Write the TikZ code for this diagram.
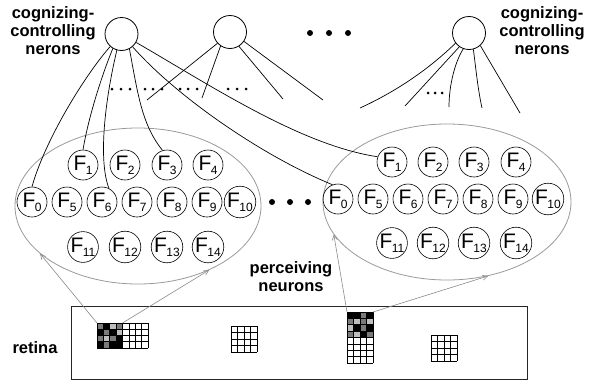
\documentclass[tikz,border=0pt]{standalone}
\usepackage{fontspec}
\setmainfont{Liberation Sans}
\usetikzlibrary{shapes.geometric,arrows.meta}
\newcommand{\Fn}[1]{F\kern-0.5pt\raisebox{-4pt}{\fontsize{12}{12}\selectfont #1}}
\definecolor{cK}{HTML}{000000}
\definecolor{cG}{HTML}{7A7A7A}
\definecolor{cL}{HTML}{BEBEBE}
\definecolor{ellgray}{HTML}{9A9A9A}
\definecolor{arrgray}{HTML}{8A8A8A}
\tikzset{
  topn/.style={circle,draw,line width=0.8pt,minimum size=33pt,inner sep=0pt},
  fnode/.style={circle,draw,line width=0.6pt,minimum size=30pt,inner sep=0pt,font=\fontsize{21}{21}\selectfont},
  ellnode/.style={ellipse,draw=ellgray,line width=0.8pt,inner sep=0pt},
  conn/.style={line width=0.7pt},
  arr/.style={draw=arrgray,line width=0.6pt,-{Straight Barb[length=5pt,width=5pt]}},
  lbl/.style={font=\fontsize{16.5}{18}\selectfont\bfseries,align=center,inner sep=0pt},
  sdot/.style={circle,fill,inner sep=0pt,minimum size=3pt},
  bdot/.style={circle,fill,inner sep=0pt,minimum size=6pt},
  gridline/.style={line width=0.7pt,draw=black},
}
\begin{document}
\begin{tikzpicture}[x=1pt,y=-1pt]
\useasboundingbox (0,0) rectangle (589,383);

% labels
\node[lbl] (lblL) at (53,31) {cognizing-\\controlling\\nerons};
\node[lbl] (lblR) at (542,31) {cognizing-\\controlling\\nerons};
\node[lbl] (lblP) at (291,277) {perceiving\\neurons};
\node[lbl] (lblRet) at (35,348) {retina};

% top neurons
\node[topn] (c1) at (121.5,34) {};
\node[topn] (c2) at (230,32) {};
\node[topn] (c3) at (469,33) {};

% big dots
\node[bdot] (bd1) at (310,33) {};
\node[bdot] (bd2) at (329,33) {};
\node[bdot] (bd3) at (348,33) {};
\node[bdot] (md1) at (272,202) {};
\node[bdot] (md2) at (290,202) {};
\node[bdot] (md3) at (308,202) {};

% small dots
\foreach \x [count=\i] in {112,121,130,145,153,162,180,188,197,228,237,246}
  \node[sdot] (sd\i) at (\x,89) {};
\foreach \x [count=\i] in {428,435,442}
  \node[sdot] (td\i) at (\x,93) {};

% ellipses
\node[ellnode,minimum width=246pt,minimum height=156pt] (lell) at (138,206) {};
\node[ellnode,minimum width=248pt,minimum height=156pt] (rell) at (447,202) {};

% F nodes, left
\foreach \n/\x in {1/83,2/125,3/167,4/208}
  \node[fnode] (lF\n) at (\x,165) {\Fn{\n}};
\foreach \n/\x in {0/32,5/67,6/102,7/137,8/172,9/207,10/240}
  \node[fnode] (lF\n) at (\x,202) {\Fn{\n}};
\foreach \n/\x in {11/83,12/125,13/167,14/208}
  \node[fnode] (lF\n) at (\x,247) {\Fn{\n}};
% F nodes, right
\foreach \n/\x in {1/392,2/433,3/474,4/516}
  \node[fnode] (rF\n) at (\x,162) {\Fn{\n}};
\foreach \n/\x in {0/338,5/373,6/408,7/443,8/478,9/513,10/548}
  \node[fnode] (rF\n) at (\x,199) {\Fn{\n}};
\foreach \n/\x in {11/392,12/433,13/474,14/516}
  \node[fnode] (rF\n) at (\x,243) {\Fn{\n}};

% connectors from c1
\draw[conn] (c1.228) .. controls (85,75) and (45,140) .. (lF0.90);
\draw[conn] (c1.239) .. controls (100,80) and (88,120) .. (lF1.90);
\draw[conn] (c1.254) .. controls (105,100) and (98,160) .. (lF6.63);
\draw[conn] (c1.298) .. controls (138,95) and (142,125) .. (lF3.107);
\draw[conn] (c1.311) .. controls (175,95) and (260,155) .. (rF0.111);
\draw[conn] (c1.330) .. controls (210,85) and (300,145) .. (rF1.160);

% stubs from c2
\coordinate (s1) at (147,100);
\coordinate (s2) at (202,98);
\coordinate (s3) at (283,99);
\coordinate (s4) at (323,100);
\draw[conn] (c2.222) -- (s1);
\draw[conn] (c2.236) -- (s2);
\draw[conn] (c2.302) -- (s3);
\draw[conn] (c2.326) -- (s4);

% stubs from c3
\coordinate (t1) at (360,108);
\coordinate (t2) at (405,106);
\coordinate (t3) at (449,107);
\coordinate (t4) at (482,108);
\coordinate (t5) at (520,113);
\draw[conn] (c3.217) .. controls (428,70) and (395,92) .. (t1);
\draw[conn] (c3.235) -- (t2);
\draw[conn] (c3.250) .. controls (455,62) and (449,85) .. (t3);
\draw[conn] (c3.285) .. controls (476,70) and (478,90) .. (t4);
\draw[conn] (c3.312) -- (t5);

% retina
\node[draw,line width=0.9pt,draw=black!85,minimum width=456pt,minimum height=73pt,inner sep=0pt] (ret) at (299,342.5) {};

% grid 1 (8x4)
\begin{scope}[shift={(97,323)},x=6.375pt,y=-6.25pt]
  \foreach \c/\r/\col in {0/0/cG,1/0/cK,2/0/cL,3/0/cG,
                          0/1/cK,1/1/cG,2/1/cK,3/1/cL,
                          0/2/cG,1/2/cL,2/2/cG,3/2/cK,
                          0/3/cK,1/3/cG,2/3/cK,3/3/cK}
    \fill[\col] (\c,\r) rectangle ++(1,1);
  \foreach \i in {0,...,8} \draw[gridline] (\i,0) -- (\i,4);
  \foreach \j in {0,...,4} \draw[gridline] (0,\j) -- (8,\j);
\end{scope}
% grid 2 (4x8)
\begin{scope}[shift={(347,312)},x=6.5pt,y=-6.375pt]
  \foreach \c/\r/\col in {0/0/cK,1/0/cK,2/0/cG,3/0/cK,
                          0/1/cG,1/1/cL,2/1/cG,3/1/cL,
                          0/2/cL,1/2/cK,2/2/cG,3/2/cK,
                          0/3/cG,1/3/cL,2/3/cK,3/3/cG}
    \fill[\col] (\c,\r) rectangle ++(1,1);
  \foreach \i in {0,...,4} \draw[gridline] (\i,0) -- (\i,8);
  \foreach \j in {0,...,8} \draw[gridline] (0,\j) -- (4,\j);
\end{scope}
% grid 3 (4x4)
\begin{scope}[shift={(231,326)},x=6.5pt,y=-6.5pt]
  \foreach \i in {0,...,4} \draw[gridline] (\i,0) -- (\i,4);
  \foreach \j in {0,...,4} \draw[gridline] (0,\j) -- (4,\j);
\end{scope}
% grid 4 (4x4)
\begin{scope}[shift={(431,335)},x=6.5pt,y=-6.5pt]
  \foreach \i in {0,...,4} \draw[gridline] (\i,0) -- (\i,4);
  \foreach \j in {0,...,4} \draw[gridline] (0,\j) -- (4,\j);
\end{scope}

% arrows from retina patches to ellipses
\coordinate (g1a) at (97,323);
\coordinate (g1b) at (122.5,323);
\coordinate (g2a) at (347,312);
\coordinate (g2b) at (373,312);
\draw[arr] (g1a) -- (lell.206);
\draw[arr] (g1b) -- (lell.318);
\draw[arr] (g2a) -- (rell.196);
\draw[arr] (g2b) -- (rell.299);
\end{tikzpicture}
\end{document}
